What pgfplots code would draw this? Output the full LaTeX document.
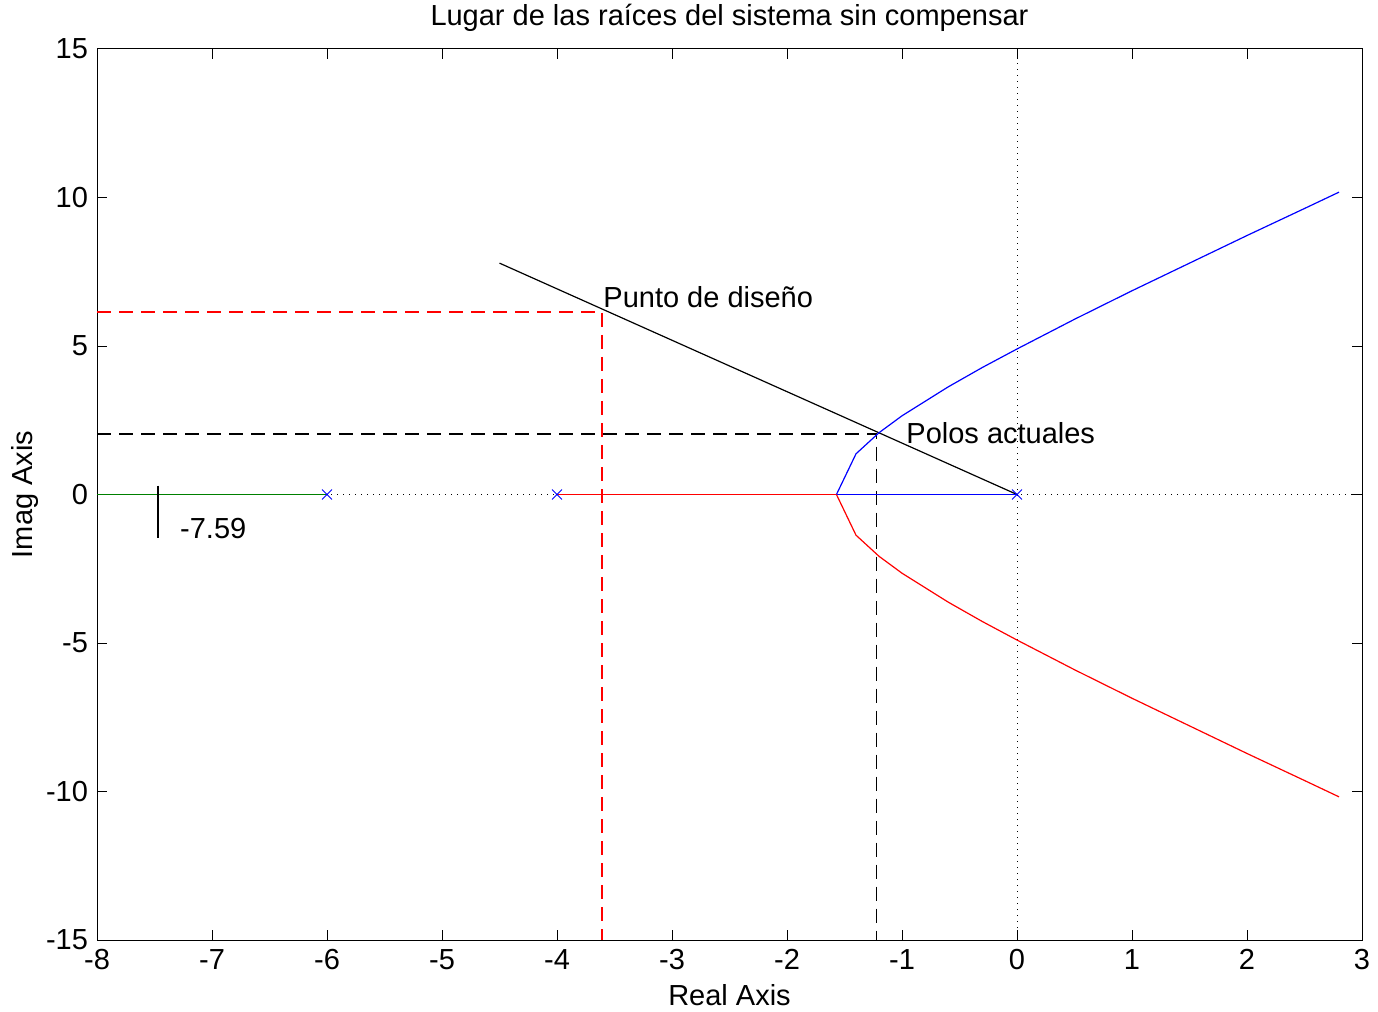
\documentclass[border=0pt]{standalone}
\usepackage{pgfplots}
\pgfplotsset{compat=1.18}
\usepackage{fontspec}
\setmainfont{Liberation Sans}
\definecolor{mgreen}{rgb}{0,0.5,0}
\definecolor{mred}{rgb}{1,0,0}
\begin{document}
\begin{tikzpicture}[font=\fontsize{14.5}{17}\selectfont]
\begin{axis}[
  name=ax,
  scale only axis,
  width=632.5pt, height=445.5pt,
  xmin=-8, xmax=3, ymin=-15, ymax=15,
  xtick={-8,-7,-6,-5,-4,-3,-2,-1,0,1,2,3},
  ytick={-15,-10,-5,0,5,10,15},
  tick align=inside,
  major tick length=5pt,
  tick style={black, line width=0.5pt},
  axis line style={line width=0.5pt},
  font=\fontsize{14.5}{17}\selectfont,
  /pgf/number format/assume math mode=true,
  xticklabel style={yshift=-1pt},
  yticklabel style={xshift=-1pt},
  xlabel={Real Axis},
  xlabel style={at={(axis description cs:0.5,-0.0617)}, anchor=center},
  ylabel={Imag Axis},
  ylabel style={at={(axis description cs:-0.0569,0.5)}, anchor=center},
  clip=true,
]
% dotted axes lines
\addplot[black, line width=0.5pt, dash pattern=on 0.6pt off 2.4pt] coordinates {(-8,0) (3,0)};
\addplot[black, line width=0.5pt, dash pattern=on 0.6pt off 2.4pt] coordinates {(0,-15) (0,15)};
% dashed lines
\addplot[draw=mred, line width=0.75pt, dash pattern=on 7pt off 4pt] coordinates {(-8,6.15) (-3.61,6.15) (-3.61,-15)};
\addplot[draw=black, line width=0.75pt, dash pattern=on 7pt off 4pt] coordinates {(-8,2.03) (-1.22,2.03) (-1.22,-15)};
% damping line
\addplot[black, line width=0.6pt] coordinates {(-4.5,7.79) (0,0)};
% branches
\addplot[mgreen, line width=0.6pt] coordinates {(-8,0) (-6,0)};
\addplot[red, line width=0.6pt] coordinates {(-4,0) (-1.57,0)};
\addplot[blue, line width=0.6pt] coordinates {(0,0) (-1.57,0)};
\addplot[blue, line width=0.6pt] coordinates {
(-1.57,0) (-1.4,1.37) (-1.2,2.08) (-1.0,2.65) (-0.6,3.62) (-0.3,4.28) (0,4.90)
(0.5,5.90) (1.0,6.86) (1.5,7.79) (2.0,8.72) (2.5,9.63) (2.8,10.18)};
\addplot[red, line width=0.6pt] coordinates {
(-1.57,0) (-1.4,-1.37) (-1.2,-2.08) (-1.0,-2.65) (-0.6,-3.62) (-0.3,-4.28) (0,-4.90)
(0.5,-5.90) (1.0,-6.86) (1.5,-7.79) (2.0,-8.72) (2.5,-9.63) (2.8,-10.18)};
% poles
\addplot[blue, only marks, mark=x, mark size=3.5pt, mark options={line width=0.5pt}] coordinates {(-6,0) (-4,0) (0,0)};
% marker line at -7.59
\addplot[black, line width=0.6pt] coordinates {(-7.47,0.3) (-7.47,-1.45)};
\node[anchor=west, inner sep=0pt] at (axis cs:-7.28,-1.15) {-7.59};
\node[anchor=west, inner sep=0pt] at (axis cs:-3.60,6.65) {Punto de diseño};
\node[anchor=west, inner sep=0pt] at (axis cs:-0.965,2.07) {Polos actuales};
\end{axis}
\node[anchor=center, inner sep=0pt] at ([yshift=15.5pt]ax.north) {Lugar de las raíces del sistema sin compensar};
\pgfresetboundingbox
\path ([xshift=-48.5pt,yshift=-35.5pt]ax.south west) rectangle ([xshift=8pt,yshift=24.5pt]ax.north east);
\end{tikzpicture}
\end{document}
